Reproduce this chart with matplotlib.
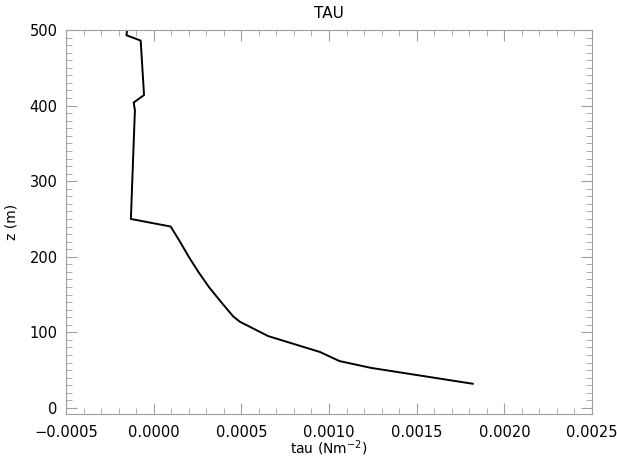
import numpy as np
import matplotlib
matplotlib.use('Agg')
import matplotlib.pyplot as plt
from matplotlib.ticker import MultipleLocator, FuncFormatter

#%% Profile
z_m = [500, 493, 486, 414, 404, 394, 250, 240, 220, 200, 180, 160, 140,
       121, 114, 95, 74, 62, 53, 32]
tau = [-0.000152, -0.000155, -0.000074, -0.000055, -0.000114, -0.000107,
       -0.000130, 0.000097, 0.000150, 0.000200, 0.000255, 0.000315,
       0.000385, 0.000454, 0.000492, 0.000654, 0.000949, 0.001060,
       0.001240, 0.001820]

x_ticks = [-0.0005, 0.0, 0.0005, 0.0010, 0.0015, 0.0020, 0.0025]
y_ticks = [0, 100, 200, 300, 400, 500]

#%% Figure
plt.rcParams['font.family'] = 'DejaVu Sans'
plt.rcParams['font.size'] = 10

fig = plt.figure(figsize=(6.17, 4.59), dpi=100)
ax = fig.add_axes([66/617, 45/459, 526/617, 384/459])

ax.plot(tau, z_m, color='black', lw=1.4)

ax.set_xlim(-0.0005, 0.0025)
ax.set_ylim(-8, 500)
ax.set_xticks(x_ticks)
ax.set_yticks(y_ticks)
ax.xaxis.set_major_formatter(FuncFormatter(lambda v, p: ('%.4f' % v).replace('-', '\u2212')))
ax.xaxis.set_minor_locator(MultipleLocator(0.0001))
ax.yaxis.set_minor_locator(MultipleLocator(10))

gray = '#a0a0a0'
for s in ax.spines.values():
    s.set_color(gray)
    s.set_linewidth(0.8)
ax.tick_params(which='both', direction='in', top=True, right=True,
               color=gray, labelcolor='black')
ax.tick_params(axis='x', labelsize=10.5, pad=8)
ax.tick_params(axis='y', labelsize=10.5, pad=6)
ax.tick_params(which='major', length=8, width=0.8)
ax.tick_params(which='minor', length=4, width=0.6)

ax.set_title('TAU', fontsize=11, pad=9)
ax.set_xlabel('tau (Nm$^{-2}$)', fontsize=10, labelpad=-1)
ax.set_ylabel('z (m)', fontsize=10, labelpad=8)

fig.savefig('out.png', dpi=100)
